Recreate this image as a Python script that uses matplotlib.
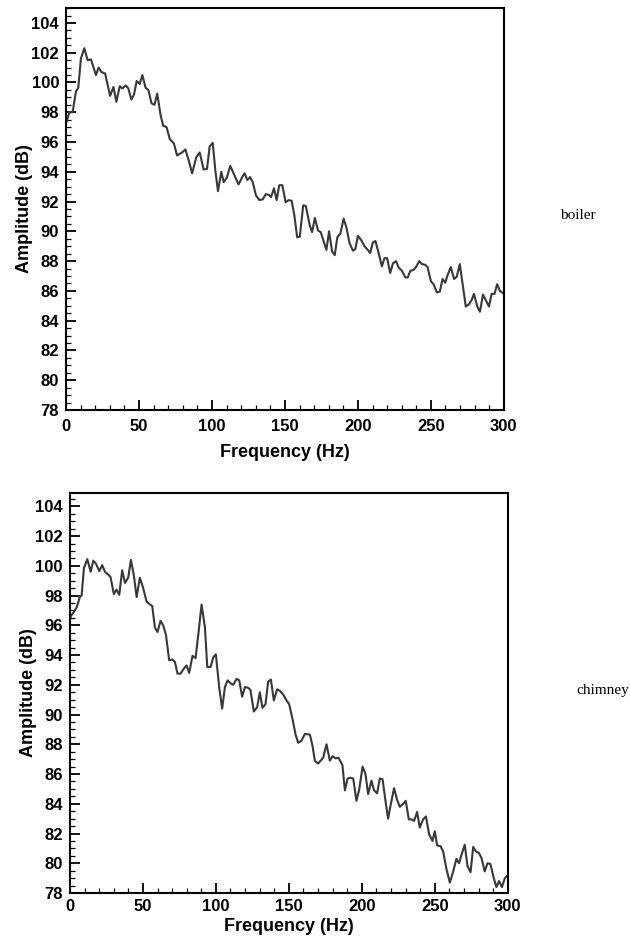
import numpy as np
import matplotlib.pyplot as plt
from matplotlib.ticker import MultipleLocator

# boiler spectrum
freq_boiler = [0, 1.1, 2.3, 4.5, 6.8, 8.4, 10.2, 12.5, 14.8, 17.1, 20.5, 22.3, 24.3, 26.8, 30.2,
               32.5, 34.5, 36.8, 38.6, 40.9, 42.7, 44.8, 46.6, 48.4, 50.5, 52.3, 54.5, 56.4, 58.6,
               60.6, 62.5, 64.8, 66.6, 68.9, 71.1, 73.9, 76.1, 79.5, 81.8, 84.1, 86.4, 89.3, 91.6,
               94.3, 96.6, 98.4, 100.5, 102.3, 104.1, 106.4, 108, 110.2, 112.5, 114.8, 118.2,
               120.5, 122.3, 124.3, 126.1, 127.9, 130.2, 132.5, 134.8, 136.8, 139.1, 140.5, 142.5,
               144.3, 146.1, 148.2, 150.5, 152.5, 154.6, 156.4, 158.4, 160.2, 162.5, 164.3, 167,
               168.6, 170.5, 172.7, 174.5, 176.6, 178.4, 180.2, 182.3, 184.1, 185.9, 188, 190.2,
               192, 194.3, 196.6, 198.2, 200, 202.3, 204.5, 206.8, 208.4, 210.2, 212, 214.3, 216.4,
               218.2, 220, 222.1, 224, 226.1, 228, 230.2, 232.5, 234.1, 235.9, 238, 239.8, 242,
               243.9, 246.1, 247.7, 250, 251.8, 254.1, 256.1, 258, 259.8, 261.4, 263.6, 265.9,
               267.7, 269.8, 271.6, 273.9, 276.1, 278, 279.5, 281.8, 283.6, 285.7, 287.5, 289.8,
               291.6, 293.6, 295.4, 297.3, 300]
amp_boiler = [97.3, 97.6, 98.0, 98.0, 99.4, 99.65, 101.6, 102.3, 101.5, 101.55, 100.5, 101.0, 100.7,
              100.6, 99.1, 99.7, 98.7, 99.75, 99.6, 99.8, 99.6, 98.85, 99.2, 100.1, 99.9, 100.5,
              99.65, 99.5, 98.6, 98.5, 99.25, 97.8, 97.1, 97.0, 96.2, 95.9, 95.1, 95.3, 95.5,
              94.75, 93.9, 95.0, 95.3, 94.15, 94.2, 95.7, 95.95, 94.1, 92.7, 94.0, 93.3, 93.6,
              94.4, 93.9, 93.15, 93.6, 93.9, 93.45, 93.65, 93.3, 92.4, 92.1, 92.15, 92.5, 92.45,
              92.3, 92.9, 92.1, 93.1, 93.1, 91.95, 92.1, 92.05, 91.1, 89.6, 89.65, 91.75, 91.7,
              90.4, 89.95, 90.9, 90.05, 89.95, 89.3, 88.75, 90.0, 88.65, 88.4, 89.6, 89.85, 90.85,
              90.3, 89.2, 88.7, 88.8, 89.7, 89.4, 89.0, 88.75, 88.55, 89.25, 89.35, 88.5, 87.65,
              88.2, 88.2, 87.2, 87.85, 88.0, 87.55, 87.35, 86.9, 86.9, 87.35, 87.4, 87.6, 88.0,
              87.8, 87.75, 87.6, 86.65, 86.45, 85.9, 85.95, 86.8, 86.55, 87.05, 87.6, 86.8, 86.95,
              87.8, 86.55, 84.95, 85.1, 85.4, 85.8, 84.95, 84.6, 85.75, 85.4, 84.95, 85.8, 85.8,
              86.45, 86.0, 85.8]

# chimney spectrum
freq_chimney = [0, 0.5, 2.3, 4.6, 6.8, 8.0, 9.6, 11.9, 14.2, 16, 17.8, 20.1, 22.1, 24, 25.8, 27.8,
                30.1, 31.9, 33.8, 35.8, 37.7, 39.9, 41.8, 43.8, 45.7, 47.9, 50.2, 52.5, 54.8, 56.4,
                58.2, 60, 62.1, 63.9, 65.8, 68, 70.1, 71.9, 73.7, 75.8, 78.1, 79.9, 81.7, 84, 86.1,
                88.2, 90.2, 92.5, 94.1, 96.4, 98.2, 100, 102.3, 104.3, 106.2, 108, 110.1, 111.9,
                114.2, 116, 118, 119.9, 122.1, 123.7, 126, 128.3, 130.1, 131.9, 134, 135.8, 137.7,
                139.7, 142, 143.8, 146.1, 148.4, 150.2, 152.5, 154.6, 156.4, 158.7, 161, 164.4,
                166.2, 167.8, 170, 173.5, 175.8, 178.1, 180, 182, 184, 186.7, 188.4, 190.2, 192.2,
                194.1, 196.3, 198.2, 200.5, 202.5, 204.3, 206.6, 208.4, 210.5, 212.3, 214.2, 216.2,
                218, 219.9, 222.1, 224.2, 226, 228.3, 230.1, 232.2, 234, 235.8, 237.9, 239.7, 242,
                243.9, 246.1, 248.4, 250, 251.6, 253.9, 255.7, 258, 260.3, 262.6, 264.8, 266.6,
                268.7, 270.5, 272.4, 274.5, 276.3, 278.1, 280.2, 282, 284.2, 286.1, 288.1, 290.4,
                292.2, 294, 296, 298, 300]
amp_chimney = [96.3, 96.6, 96.85, 97.2, 97.9, 98.0, 99.85, 100.45, 99.6, 100.35, 100.15, 99.65,
               100.05, 99.6, 99.45, 99.25, 98.1, 98.4, 98.05, 99.7, 98.85, 99.2, 100.4, 99.35, 97.9,
               99.2, 98.5, 97.6, 97.4, 97.3, 95.85, 95.55, 96.3, 96.0, 95.35, 93.65, 93.7, 93.55,
               92.75, 92.75, 93.1, 93.3, 92.8, 93.95, 93.8, 95.6, 97.4, 95.85, 93.2, 93.2, 93.85,
               94.05, 91.8, 90.4, 91.85, 92.3, 92.1, 92.0, 92.4, 92.3, 91.2, 91.85, 91.8, 91.65,
               90.2, 90.5, 91.5, 90.45, 90.7, 92.2, 92.35, 90.95, 91.7, 91.6, 91.35, 90.95, 90.7,
               89.7, 88.65, 88.1, 88.25, 88.7, 88.65, 87.9, 86.9, 86.7, 87.1, 88.0, 86.9, 87.2,
               87.05, 87.1, 86.6, 84.9, 85.7, 85.75, 85.7, 84.2, 84.95, 86.5, 86.0, 84.65, 85.55,
               84.9, 84.7, 85.7, 85.65, 84.2, 83.0, 84.0, 85.05, 84.25, 83.8, 84.0, 84.2, 82.95,
               82.95, 82.85, 83.45, 82.4, 82.95, 83.15, 81.95, 81.5, 82.15, 81.2, 81.15, 80.8, 79.6,
               78.7, 79.45, 80.3, 80.0, 80.7, 81.25, 79.8, 79.4, 81.1, 80.8, 80.7, 80.35, 79.45,
               80.0, 79.95, 79.0, 78.4, 78.8, 78.4, 79.0, 79.2]

plt.rcParams['font.family'] = ['Liberation Sans', 'DejaVu Sans']

fig = plt.figure(figsize=(6.3, 9.39), dpi=100)
ax1 = fig.add_axes([0.1048, 0.5634, 0.695, 0.428])
ax2 = fig.add_axes([0.111, 0.049, 0.695, 0.426])

setups = [(ax1, freq_boiler, amp_boiler, 105.0, 6.5, 7.5),
          (ax2, freq_chimney, amp_chimney, 104.9, 4.5, 2.5)]
for ax, f, a, top, xpad, lpad in setups:
    ax.plot(f, a, color='#383838', lw=1.5)
    ax.set_xlim(0, 300)
    ax.set_ylim(78, top)
    ax.set_yticks(np.arange(78, 105, 2))
    ax.xaxis.set_major_locator(MultipleLocator(50))
    ax.xaxis.set_minor_locator(MultipleLocator(10))
    ax.yaxis.set_minor_locator(MultipleLocator(0.5))
    ax.tick_params(which='major', direction='in', length=7, width=1.3, labelsize=12, pad=5)
    ax.tick_params(axis='x', which='major', pad=xpad)
    ax.tick_params(which='minor', direction='in', length=3.5, width=0.9)
    for lab in ax.get_xticklabels() + ax.get_yticklabels():
        lab.set_fontweight('bold')
    for sp in ax.spines.values():
        sp.set_linewidth(1.5)
    ax.set_xlabel('Frequency (Hz)', fontsize=13, fontweight='bold', labelpad=lpad)
    ax.set_ylabel('Amplitude (dB)', fontsize=13, fontweight='bold', labelpad=-1)

fig.text(0.889, 0.770, 'boiler', family='Liberation Serif', fontsize=11, ha='left', va='center')
fig.text(0.915, 0.265, 'chimney', family='Liberation Serif', fontsize=11, ha='left', va='center')

plt.savefig('out.png', dpi=100)
